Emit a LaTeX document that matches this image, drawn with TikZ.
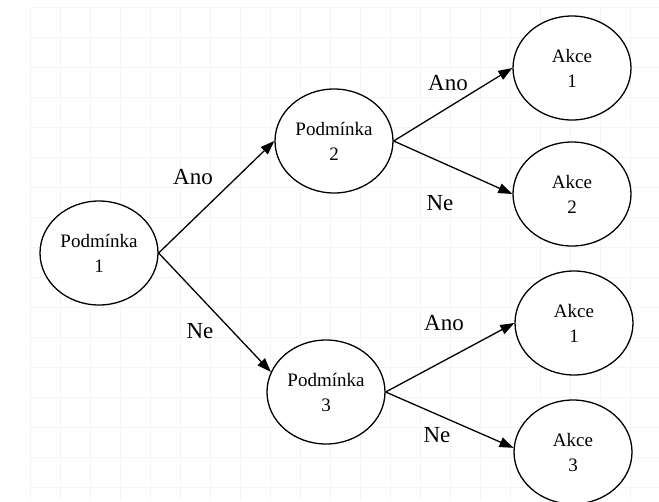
\documentclass[tikz,border=0pt]{standalone}
\usepackage{fontspec}
\setmainfont{Liberation Serif}
\usetikzlibrary{arrows.meta,shapes.geometric}

\tikzset{
  decision/.style={ellipse, draw=black, line width=1.3pt, fill=white,
    minimum width=118pt, minimum height=104pt, inner sep=0pt,
    align=center, font=\fontsize{19}{25}\selectfont},
  edgelabel/.style={font=\fontsize{23}{27}\selectfont, inner sep=0pt},
  arr/.style={draw=black, line width=1.3pt,
    -{Triangle[length=14pt,width=10pt]}},
  faintgrid/.style={draw=black!4, line width=0.7pt}
}

\begin{document}
\begin{tikzpicture}[x=1pt,y=-1pt]
  % canvas and light background grid
  \fill[white] (0,0) rectangle (659,501);
  \useasboundingbox (0,0) rectangle (659,501);
  \foreach \gx in {30,60,...,630} {
    \draw[faintgrid] (\gx,7) -- (\gx,501);
  }
  \foreach \gy in {7,37,...,487} {
    \draw[faintgrid] (30,\gy) -- (659,\gy);
  }

  % conditions
  \node[decision] (p1) at (99,253)  {Podmínka\\1};
  \node[decision] (p2) at (334,141) {Podmínka\\2};
  \node[decision] (p3) at (326,392) {Podmínka\\3};

  % actions
  \node[decision] (a1) at (572,68)  {Akce\\1};
  \node[decision] (a2) at (572,194) {Akce\\2};
  \node[decision] (a1b) at (574,323) {Akce\\1};
  \node[decision] (a3) at (573,452) {Akce\\3};

  % branches
  \draw[arr] (p1.east) -- (p2.west);
  \draw[arr] (p1.east) -- (p3.160);
  \draw[arr] (p2.east) -- (a1.west);
  \draw[arr] (p2.east) -- (a2.west);
  \draw[arr] (p3.east) -- (a1b.west);
  \draw[arr] (p3.east) -- (a3.176);

  % branch labels
  \node[edgelabel] (l1) at (193,177) {Ano};
  \node[edgelabel] (l2) at (200,331) {Ne};
  \node[edgelabel] (l3) at (448,83)  {Ano};
  \node[edgelabel] (l4) at (440,203) {Ne};
  \node[edgelabel] (l5) at (444,323) {Ano};
  \node[edgelabel] (l6) at (437,435) {Ne};
\end{tikzpicture}
\end{document}
